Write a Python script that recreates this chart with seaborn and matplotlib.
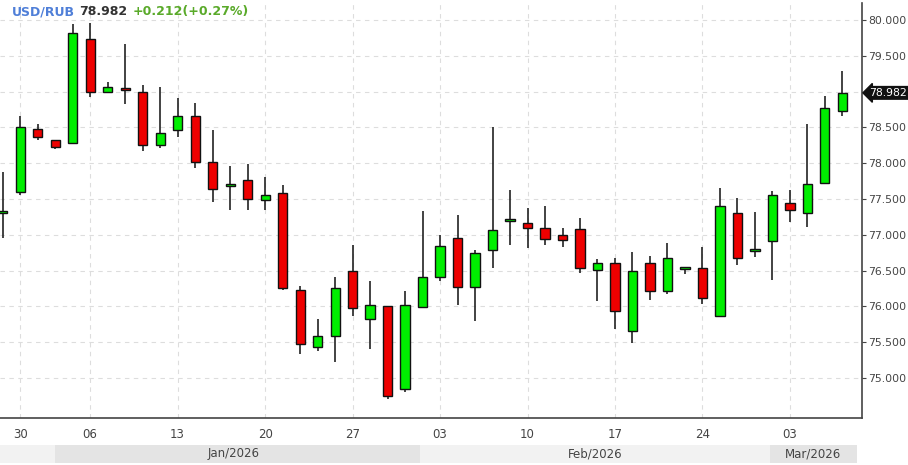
import numpy as np
import pandas as pd
import matplotlib
matplotlib.use("Agg")
import matplotlib.pyplot as plt
import seaborn as sns
from matplotlib.patches import Rectangle

# ---------- Data ----------
opens = [77.30, 77.60, 78.48, 78.32, 78.28, 79.74, 78.99, 79.03, 79.00, 78.25,
         78.47, 78.66, 78.02, 77.68, 77.76, 77.48, 77.59, 76.23, 75.43, 75.59,
         76.49, 75.83, 76.01, 74.84, 75.99, 76.41, 76.96, 76.27, 76.79, 77.19,
         77.17, 77.10, 77.00, 77.08, 76.51, 76.61, 75.66, 76.61, 76.22, 76.52,
         76.53, 75.87, 77.30, 76.78, 76.91, 77.45, 77.31, 77.72, 78.73]
closes = [77.33, 78.51, 78.36, 78.22, 79.82, 78.99, 79.06, 79.02, 78.26, 78.42,
          78.66, 78.01, 77.64, 77.71, 77.50, 77.55, 76.25, 75.47, 75.59, 76.25,
          75.97, 76.02, 74.75, 76.02, 76.41, 76.84, 76.27, 76.75, 77.06, 77.19,
          77.10, 76.94, 76.92, 76.53, 76.60, 75.93, 76.49, 76.22, 76.67, 76.52,
          76.11, 77.40, 76.67, 76.78, 77.55, 77.34, 77.71, 78.77, 78.982]
highs = [77.88, 78.66, 78.55, 78.32, 79.94, 79.96, 79.13, 79.66, 79.09, 79.06,
         78.91, 78.84, 78.46, 77.96, 77.99, 77.80, 77.70, 76.28, 75.83, 76.41,
         76.86, 76.35, 76.01, 76.22, 77.33, 76.99, 77.28, 76.79, 78.51, 77.63,
         77.38, 77.40, 77.10, 77.23, 76.66, 76.68, 76.76, 76.70, 76.88, 76.55,
         76.83, 77.66, 77.51, 77.32, 77.61, 77.62, 78.55, 78.94, 79.29]
lows = [76.96, 77.55, 78.33, 78.20, 78.28, 78.93, 79.00, 78.83, 78.17, 78.21,
        78.36, 77.93, 77.46, 77.35, 77.35, 77.35, 76.23, 75.34, 75.37, 75.22,
        75.86, 75.41, 74.70, 74.80, 75.99, 76.35, 76.02, 75.79, 76.54, 76.85,
        76.82, 76.85, 76.83, 76.47, 76.07, 75.68, 75.49, 76.09, 76.17, 76.45,
        76.03, 75.87, 76.58, 76.69, 76.37, 77.18, 77.11, 77.72, 78.66]

tick_pos = [1, 5, 10, 15, 20, 25, 30, 35, 40, 45]
tick_labels = ["30", "06", "13", "20", "27", "03", "10", "17", "24", "03"]
months = ["Jan/2026", "Feb/2026", "Mar/2026"]
y_ticks = [75.0, 75.5, 76.0, 76.5, 77.0, 77.5, 78.0, 78.5, 79.0, 79.5, 80.0]

last_price = "78.982"
change_txt = "+0.212(+0.27%)"

df = pd.DataFrame({"open": opens, "close": closes, "high": highs, "low": lows})
df["idx"] = np.arange(len(df))
df["up"] = df["close"] >= df["open"]

# ---------- Plot ----------
sns.set_style("white")
plt.rcParams["font.family"] = ["DejaVu Sans"]

fig = plt.figure(figsize=(9.08, 4.65), dpi=100)
ax = fig.add_axes([0.0, 0.101, 0.949, 0.893])

ax.vlines(df["idx"], df["low"], df["high"], color="#222222", lw=1.2, zorder=2)
body_lo = df[["open", "close"]].min(axis=1)
body_h = (df["close"] - df["open"]).abs().clip(lower=0.025)
colors = np.where(df["up"], "#00ee00", "#ee0000")
ax.bar(df["idx"], body_h, bottom=body_lo, width=0.52, color=colors,
       edgecolor="#111111", linewidth=1.0, zorder=3)

ax.set_xlim(-0.15, 49.1)
ax.set_ylim(74.44, 80.24)
ax.set_xticks(tick_pos)
ax.set_xticklabels(tick_labels, fontsize=8.5, color="#444444")
ax.yaxis.tick_right()
ax.set_yticks(y_ticks)
ax.set_yticklabels([f"{v:.3f}" for v in y_ticks], fontsize=7.8, color="#444444")
ax.tick_params(axis="both", length=4, color="#444444", direction="out")
ax.tick_params(axis="y", length=3, pad=1.5)
ax.grid(True, ls=(0, (4, 4)), color="#dddddd", lw=0.8)
ax.set_axisbelow(True)
for s in ["top", "left"]:
    ax.spines[s].set_visible(False)
for s in ["bottom", "right"]:
    ax.spines[s].set_color("#444444")
    ax.spines[s].set_linewidth(1.2)

# header
ax.text(0.014, 0.978, "USD/RUB", transform=ax.transAxes, fontsize=9,
        fontweight="bold", color="#4f7fd8", va="center")
ax.text(0.092, 0.978, last_price, transform=ax.transAxes, fontsize=9,
        fontweight="bold", color="#333333", va="center")
ax.text(0.154, 0.978, change_txt, transform=ax.transAxes, fontsize=9,
        fontweight="bold", color="#5aaa2a", va="center")

# last price tag
ax.text(49.55, float(last_price), last_price, fontsize=7.8, color="white",
        va="center", ha="left", clip_on=False, zorder=5,
        bbox=dict(boxstyle="larrow,pad=0.12", fc="#111111", ec="#111111"))

# month band
band_y, band_h = 0.004, 0.04
fig.patches.append(Rectangle((0, band_y), 0.944, band_h, transform=fig.transFigure,
                             fc="#f2f2f2", ec="none", zorder=0))
for x0, x1 in [(55, 420), (770, 857)]:
    fig.patches.append(Rectangle((x0 / 908, band_y), (x1 - x0) / 908, band_h,
                                 transform=fig.transFigure, fc="#e4e4e4", ec="none", zorder=0))
for m, xc in zip(months, [234, 595, 813]):
    fig.text(xc / 908, band_y + band_h / 2, m, fontsize=8.5, color="#444444",
             ha="center", va="center")

fig.savefig("out.png", dpi=100)
